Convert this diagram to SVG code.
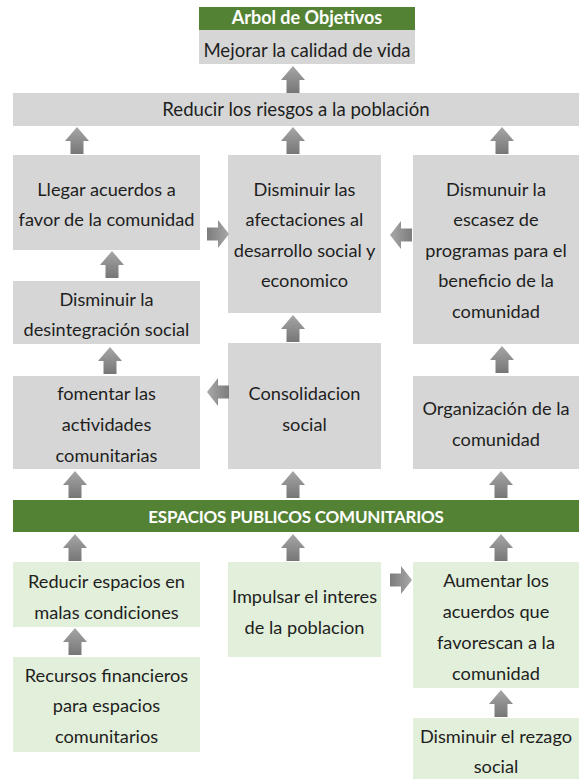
<svg xmlns="http://www.w3.org/2000/svg" xmlns:xlink="http://www.w3.org/1999/xlink" width="583" height="779" viewBox="0 0 583 779">
<style>
.g{fill:#d6d6d6}
.lg{fill:#e2efda}
.dg{fill:#548235}
text{font-family:Lato,"Liberation Sans",sans-serif;font-size:18.2px;fill:#1e1e1e;text-anchor:middle}
text.w{fill:#ffffff;font-weight:bold;font-size:18px}
text.big{font-size:18.6px}
text#esp{font-size:17px;letter-spacing:-0.2px}
</style>
<defs>
<linearGradient id="gv" x1="0" y1="0" x2="0" y2="1">
<stop offset="0" stop-color="#a6a6a6"/>
<stop offset="1" stop-color="#767676"/>
</linearGradient>
<linearGradient id="gh" x1="0" y1="0" x2="1" y2="0">
<stop offset="0" stop-color="#7c7c7c"/>
<stop offset="1" stop-color="#a8a8a8"/>
</linearGradient>
<path id="up" d="M0,0 L12,14 L6.5,14 L6.5,27 L-6.5,27 L-6.5,14 L-12,14 Z" fill="url(#gv)"/>
<path id="rt" d="M0,-6.5 L11,-6.5 L11,-14 L22,0 L11,14 L11,6.5 L0,6.5 Z" fill="url(#gh)"/>
</defs>

<g id="titulo">
<rect class="dg" x="199" y="7" width="216" height="23"/>
<text class="w" x="307" y="24">Arbol de Objetivos</text>
</g>
<g id="mejorar">
<rect class="g" x="199" y="30" width="216" height="34"/>
<text class="big" x="307" y="57">Mejorar la calidad de vida</text>
</g>
<g id="reducir-riesgos">
<rect class="g" x="13" y="93" width="566" height="33"/>
<text class="big" x="296" y="116">Reducir los riesgos a la población</text>
</g>
<g id="llegar-acuerdos">
<rect class="g" x="13" y="155" width="187" height="95"/>
<text x="106.5" y="196">Llegar acuerdos a</text>
<text x="106.5" y="226">favor de la comunidad</text>
</g>
<g id="disminuir-afectaciones">
<rect class="g" x="228" y="155" width="153" height="158"/>
<text x="304.5" y="196">Disminuir las</text>
<text x="304.5" y="226">afectaciones al</text>
<text x="304.5" y="257">desarrollo social y</text>
<text x="304.5" y="287">economico</text>
</g>
<g id="dismunuir-escasez">
<rect class="g" x="413" y="155" width="166" height="189"/>
<text x="496" y="196">Dismunuir la</text>
<text x="496" y="226">escasez de</text>
<text x="496" y="257">programas para el</text>
<text x="496" y="287">beneficio de la</text>
<text x="496" y="318">comunidad</text>
</g>
<g id="disminuir-desintegracion">
<rect class="g" x="13" y="281" width="187" height="63"/>
<text x="106.5" y="306">Disminuir la</text>
<text x="106.5" y="336">desintegración social</text>
</g>
<g id="fomentar">
<rect class="g" x="13" y="376" width="187" height="93"/>
<text x="106.5" y="400">fomentar las</text>
<text x="106.5" y="431">actividades</text>
<text x="106.5" y="462">comunitarias</text>
</g>
<g id="consolidacion">
<rect class="g" x="228" y="343" width="153" height="126"/>
<text x="304.5" y="400">Consolidacion</text>
<text x="304.5" y="431">social</text>
</g>
<g id="organizacion">
<rect class="g" x="413" y="376" width="166" height="93"/>
<text x="496" y="415">Organización de la</text>
<text x="496" y="446">comunidad</text>
</g>
<g id="espacios">
<rect class="dg" x="13" y="500" width="566" height="32"/>
<text id="esp" class="w" x="296" y="523">ESPACIOS PUBLICOS COMUNITARIOS</text>
</g>
<g id="reducir-espacios">
<rect class="lg" x="13" y="562" width="187" height="65"/>
<text x="106.5" y="588">Reducir espacios en</text>
<text x="106.5" y="619">malas condiciones</text>
</g>
<g id="recursos">
<rect class="lg" x="13" y="657" width="187" height="95"/>
<text x="106.5" y="682">Recursos financieros</text>
<text x="106.5" y="712">para espacios</text>
<text x="106.5" y="743">comunitarios</text>
</g>
<g id="impulsar">
<rect class="lg" x="228" y="562" width="153" height="95"/>
<text x="304.5" y="603">Impulsar el interes</text>
<text x="304.5" y="634">de la poblacion</text>
</g>
<g id="aumentar">
<rect class="lg" x="413" y="562" width="166" height="126"/>
<text x="496" y="587">Aumentar los</text>
<text x="496" y="618">acuerdos que</text>
<text x="496" y="649">favorescan a la</text>
<text x="496" y="680">comunidad</text>
</g>
<g id="rezago">
<rect class="lg" x="413" y="718" width="166" height="61"/>
<text x="496" y="743">Disminuir el rezago</text>
<text x="496" y="773">social</text>
</g>

<g id="conectores">
<use xlink:href="#up" transform="translate(293,66)"/>
<use xlink:href="#up" transform="translate(77,127)"/>
<use xlink:href="#up" transform="translate(293,127)"/>
<use xlink:href="#up" transform="translate(502,127)"/>
<use xlink:href="#up" transform="translate(112,251)"/>
<use xlink:href="#up" transform="translate(293,315)"/>
<use xlink:href="#up" transform="translate(110,347)"/>
<use xlink:href="#up" transform="translate(502,346)"/>
<use xlink:href="#up" transform="translate(75,471)"/>
<use xlink:href="#up" transform="translate(293,471)"/>
<use xlink:href="#up" transform="translate(501,471)"/>
<use xlink:href="#up" transform="translate(75,534)"/>
<use xlink:href="#up" transform="translate(293,534)"/>
<use xlink:href="#up" transform="translate(501,534)"/>
<use xlink:href="#up" transform="translate(75,628)"/>
<use xlink:href="#up" transform="translate(501,690)"/>
<use xlink:href="#rt" transform="translate(207,234)"/>
<use xlink:href="#rt" transform="translate(412,235) scale(-1,1)"/>
<use xlink:href="#rt" transform="translate(229,392) scale(-1,1)"/>
<use xlink:href="#rt" transform="translate(390,580)"/>
</g>
</svg>
